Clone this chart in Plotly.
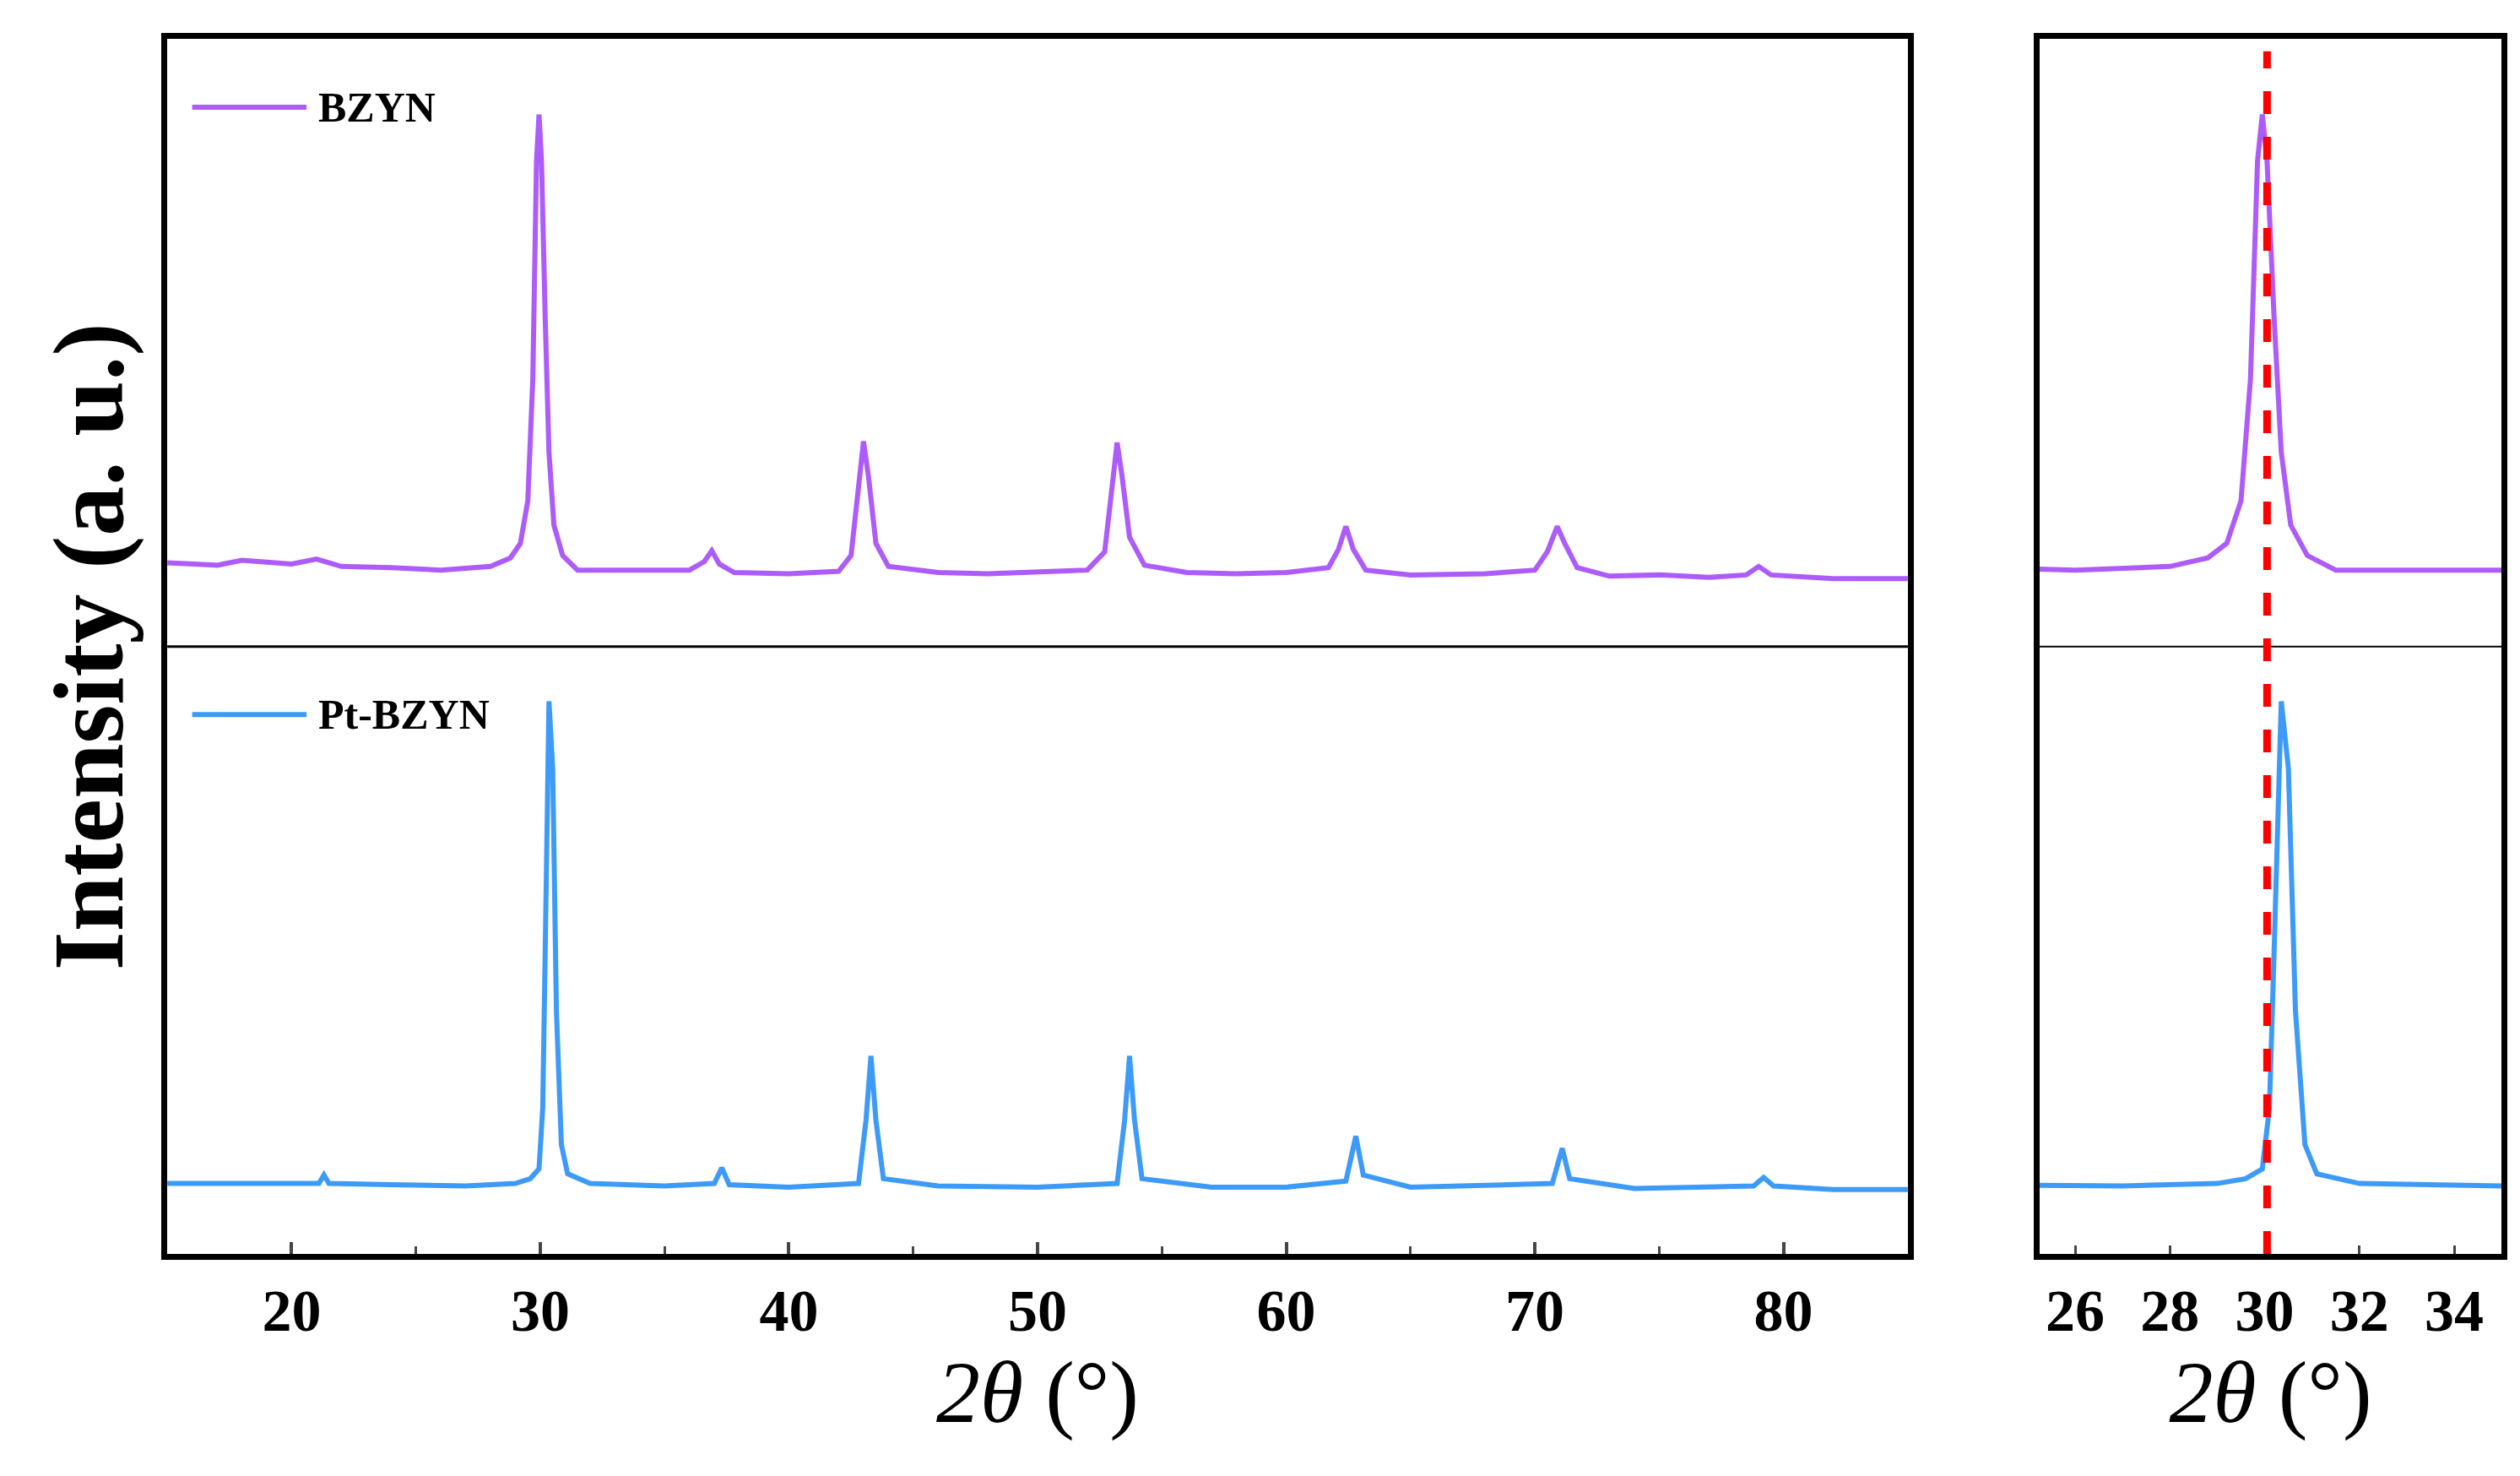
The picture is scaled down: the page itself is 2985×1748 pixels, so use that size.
import plotly.graph_objects as go

# ----------------------------------------------------------------------
#  Data (intensities in stacked, normalised units)
# ----------------------------------------------------------------------

bzyn_2theta = [15, 17, 18, 20, 21, 22, 24, 26, 28, 28.8, 29.2, 29.5, 29.7, 29.85, 29.95,
               30.05, 30.2, 30.35, 30.55, 30.9, 31.5, 32, 34, 36, 36.6, 36.9, 37.2, 37.8,
               40, 42, 42.5, 42.8, 43.0, 43.2, 43.5, 44, 46, 48, 50, 52, 52.7, 53.0, 53.2,
               53.4, 53.7, 54.3, 56, 58, 60, 61.7, 62.1, 62.4, 62.7, 63.2, 65, 68, 70, 70.5,
               70.9, 71.2, 71.7, 73, 75, 77, 78.5, 79, 79.5, 82, 85]
bzyn_int = [0.569, 0.567, 0.571, 0.568, 0.572, 0.566, 0.565, 0.563, 0.566, 0.573, 0.585, 0.62,
            0.72, 0.90, 0.938, 0.90, 0.77, 0.66, 0.60, 0.575, 0.563, 0.563, 0.562, 0.563,
            0.570, 0.579, 0.568, 0.561, 0.560, 0.562, 0.575, 0.63, 0.669, 0.64, 0.585, 0.566,
            0.561, 0.560, 0.561, 0.563, 0.578, 0.63, 0.668, 0.64, 0.59, 0.567, 0.561, 0.560,
            0.561, 0.565, 0.58, 0.599, 0.58, 0.563, 0.559, 0.560, 0.563, 0.578, 0.599, 0.585,
            0.565, 0.558, 0.559, 0.557, 0.559, 0.566, 0.559, 0.556, 0.556]

pt_2theta = [15, 18, 20, 21.1, 21.3, 21.5, 24, 27, 29.0, 29.6, 29.95, 30.1, 30.2, 30.35, 30.5,
             30.65, 30.85, 31.1, 32, 35, 37.0, 37.3, 37.6, 40, 42.8, 43.1, 43.3, 43.5, 43.8,
             46, 50, 53.2, 53.5, 53.7, 53.9, 54.2, 57, 60, 62.4, 62.8, 63.1, 65, 70.7, 71.1,
             71.4, 74, 78.8, 79.2, 79.6, 82, 85]
pt_int = [0.058, 0.058, 0.057, 0.058, 0.065, 0.058, 0.057, 0.056, 0.058, 0.062, 0.070, 0.12,
          0.25, 0.455, 0.40, 0.20, 0.09, 0.066, 0.058, 0.056, 0.058, 0.071, 0.057, 0.055,
          0.058, 0.11, 0.163, 0.11, 0.062, 0.056, 0.055, 0.058, 0.11, 0.163, 0.11, 0.062,
          0.055, 0.055, 0.060, 0.097, 0.065, 0.055, 0.058, 0.087, 0.062, 0.054, 0.056, 0.063,
          0.056, 0.053, 0.053]

ref_peak = 30.05
left_ticks = [20, 30, 40, 50, 60, 70, 80]
right_ticks = [26, 28, 30, 32, 34]

purple = '#AD5CFA'
blue = '#3D9BF7'
serif = 'Liberation Serif'

# ----------------------------------------------------------------------
#  Figure
# ----------------------------------------------------------------------

fig = go.Figure()

for xa, ya in [('x', 'y'), ('x2', 'y2')]:
    fig.add_trace(go.Scatter(x=bzyn_2theta, y=bzyn_int, mode='lines',
                             line=dict(color=purple, width=6), xaxis=xa, yaxis=ya,
                             showlegend=False))
    fig.add_trace(go.Scatter(x=pt_2theta, y=pt_int, mode='lines',
                             line=dict(color=blue, width=6), xaxis=xa, yaxis=ya,
                             showlegend=False))

# divider between stacked patterns
fig.add_shape(type='line', xref='x domain', yref='y', x0=0, x1=1, y0=0.5, y1=0.5,
              line=dict(color='black', width=3))
fig.add_shape(type='line', xref='x2 domain', yref='y2', x0=0, x1=1, y0=0.5, y1=0.5,
              line=dict(color='black', width=2))

# reference line in the zoom panel
fig.add_shape(type='line', xref='x2', yref='y2 domain', x0=ref_peak, x1=ref_peak,
              y0=0, y1=0.99, line=dict(color='#FF0000', width=9, dash='dash'))

# hand-drawn legend entries
for (y, name, col) in [(0.944, 'BZYN', purple), (0.444, 'Pt-BZYN', blue)]:
    fig.add_shape(type='line', xref='x', yref='y', x0=16.0, x1=20.6, y0=y, y1=y,
                  line=dict(color=col, width=6))
    fig.add_annotation(xref='x', yref='y', x=21.0, y=y, text='<b>%s</b>' % name,
                       showarrow=False, xanchor='left',
                       font=dict(family=serif, size=50, color='black'))

axis_common = dict(showline=True, linecolor='black', linewidth=7, mirror=True,
                   showgrid=False, zeroline=False)
tick_font = dict(family=serif, size=70, color='black', weight='bold')
xtitle_font = dict(family=serif, size=104, color='black')

fig.update_layout(
    width=2985, height=1748,
    margin=dict(l=0, r=0, t=0, b=0),
    plot_bgcolor='white', paper_bgcolor='white',
    xaxis=dict(domain=[0.0637, 0.7544], range=[15, 85], tickvals=left_ticks,
               ticks='inside', ticklen=14, tickwidth=4,
               minor=dict(dtick=5, ticks='inside', ticklen=9, tickwidth=3),
               tickfont=tick_font,
               title=dict(text='<i>2θ</i> (°)', font=xtitle_font, standoff=20),
               **axis_common),
    yaxis=dict(domain=[0.155, 0.978], range=[0, 1], showticklabels=False, ticks='',
               title=dict(text='<b>Intensity (a. u.)</b>',
                          font=dict(family=serif, size=118, color='black'), standoff=8),
               **axis_common),
    xaxis2=dict(domain=[0.8067, 0.99], range=[25.25, 35], tickvals=right_ticks,
                ticks='inside', ticklen=10, tickwidth=3, anchor='y2',
                tickfont=tick_font,
                title=dict(text='<i>2θ</i> (°)', font=xtitle_font, standoff=20),
                **axis_common),
    yaxis2=dict(domain=[0.155, 0.978], range=[0, 1], showticklabels=False, ticks='',
                anchor='x2', **axis_common),
)

fig.write_html("out.html")
